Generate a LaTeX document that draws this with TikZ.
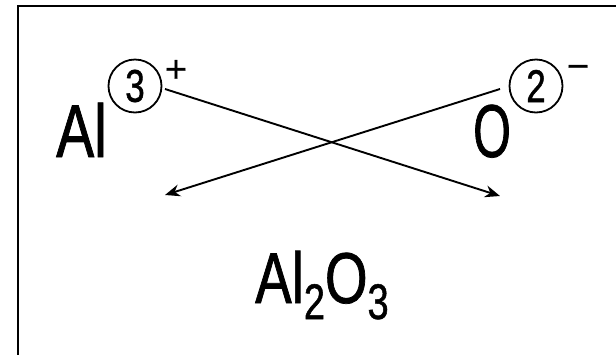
\documentclass[tikz,border=0pt]{standalone}
\usepackage{fontspec}
\setmainfont[FakeStretch=0.76,FakeBold=1]{Liberation Sans}
\newfontfamily\signfont[FakeBold=0.5]{Liberation Sans}
\usetikzlibrary{arrows.meta}
\newcommand{\narrowO}{\scalebox{0.85}[1]{O}}
\begin{document}
\begin{tikzpicture}[x=1pt,y=-1pt,
  big/.style={inner sep=0pt,anchor=base west,font=\fontsize{75}{80}\selectfont},
  prodtext/.style={inner sep=0pt,anchor=base west,font=\fontsize{72}{78}\selectfont},
  ring/.style={draw,circle,line width=1.8pt,minimum size=53pt,inner sep=0pt,font=\fontsize{46}{50}\selectfont},
  sign/.style={inner sep=0pt,anchor=base,font=\signfont\fontsize{38}{40}\selectfont},
  link/.style={line width=1.9pt,-{Stealth[length=15pt,width=12pt]}}]
\useasboundingbox (0,0) rectangle (616,354);
\fill[white] (0,0) rectangle (616,354);
\draw[line width=2.3pt] (18,400) -- (18,6) -- (650,6);
% Al ion
\node[big] (al) at (56,157) {Al};
\node[ring] (c3) at (135,86) {3};
\node[sign] (plus) at (176,82) {+};
% O ion
\node[big] (o) at (473,157) {\narrowO};
\node[ring] (c2) at (536,86) {2};
\node[sign] (minus) at (578,79) {\char"2212};
% product
\node[prodtext] (prod) at (255,303) {Al\raisebox{-16pt}{\fontsize{50}{52}\selectfont 2}O\raisebox{-16pt}{\fontsize{50}{52}\selectfont 3}};
% connectors
\coordinate (s1) at (165,89);
\coordinate (e1) at (500,196);
\coordinate (s2) at (500,89);
\coordinate (e2) at (165,195);
\draw[link] (s1) -- (e1);
\draw[link] (s2) -- (e2);
\end{tikzpicture}
\end{document}
